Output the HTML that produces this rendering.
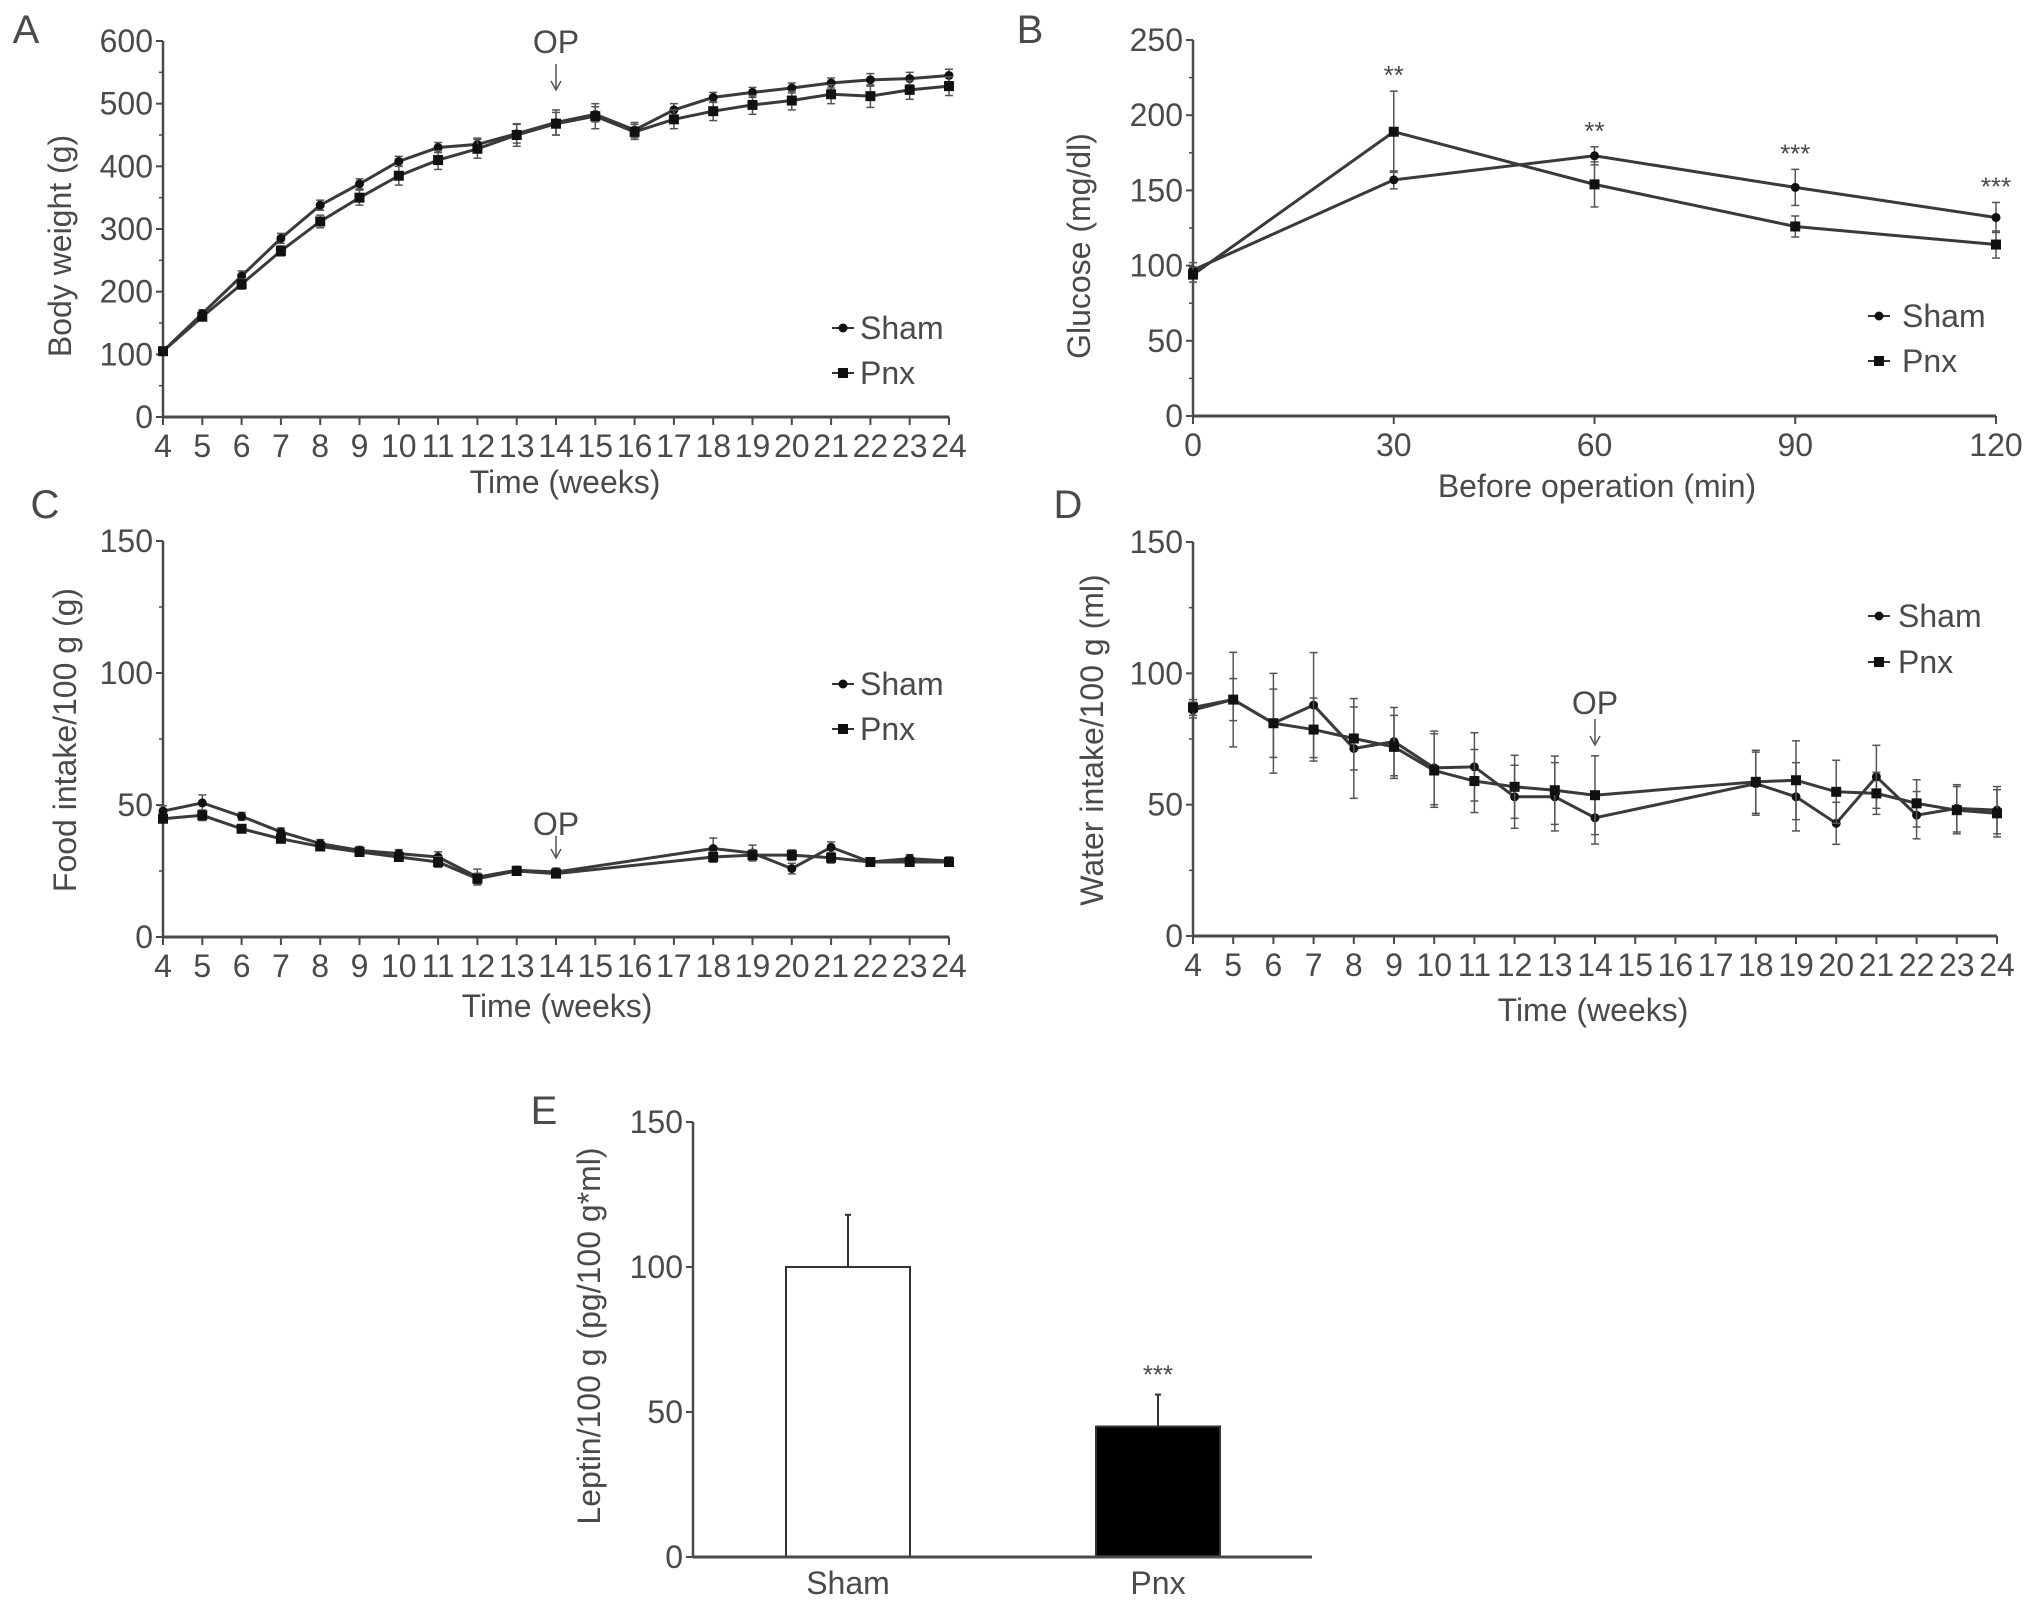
<!DOCTYPE html>
<html><head><meta charset="utf-8">
<style>
html,body{margin:0;padding:0;background:#fff;}
svg{display:block;}
text{font-family:"Liberation Sans Narrow","Liberation Sans",sans-serif;fill:#4a4a4a;}
</style></head>
<body>
<svg id="fig" width="2031" height="1609" viewBox="0 0 2031 1609" xmlns="http://www.w3.org/2000/svg"></svg>
<script>
// ---- Panel A: body weight ----
const weeksA = [4,5,6,7,8,9,10,11,12,13,14,15,16,17,18,19,20,21,22,23,24];
const shamA = [105,165,225,285,338,372,408,430,435,452,470,483,458,490,510,518,525,533,538,540,545];
const pnxA  = [105,160,212,265,312,350,385,410,428,450,468,480,455,475,488,498,505,515,512,522,528];
const shamAErr = [5,6,8,8,8,8,8,8,10,15,20,12,12,10,8,8,8,8,10,10,10];
const pnxAErr  = [5,6,8,8,10,12,15,15,15,18,18,20,12,15,15,15,15,15,18,15,15];
const ticksA = [0,100,200,300,400,500,600];
// ---- Panel B: glucose ----
const minsB = [0,30,60,90,120];
const shamB = [97,157,173,152,132];
const pnxB  = [94,189,154,126,114];
const shamBErr = [5,6,6,12,10];
const pnxBErr  = [5,27,15,7,9];
const starsB = ["","**","**","***","***"];
const ticksB = [0,50,100,150,200,250];
// ---- Panel C: food intake ----
const weeksC = [4,5,6,7,8,9,10,11,12,13,14,18,19,20,21,22,23,24];
const shamC = [47.7,50.8,45.7,39.8,35.4,32.8,31.6,30.3,22.7,25.3,24.6,33.5,31.8,25.9,34,28.4,29.7,28.8];
const pnxC  = [44.8,46.1,41,37.2,34.3,32.2,30.3,28.4,22.1,25,24,30.3,31,31,30,28.4,28.4,28.4];
const shamCErr = [2,3,1.5,1.5,1.5,1.5,1.5,2,3,1.5,1.5,4,3,2,2,1.5,1.5,1.5];
const pnxCErr  = [1.5,2,1.5,1.5,1.5,1.5,1.5,2,2,1.5,1.5,2,2,2,2,1.5,1.5,1.5];
const ticksC = [0,50,100,150];
// ---- Panel D: water intake ----
const weeksD = [4,5,6,7,8,9,10,11,12,13,14,18,19,20,21,22,23,24];
const shamD = [86,90,81,87.9,71.4,74,64,64.4,53,53,45,58,53,42.9,60.6,46,48.6,47.9];
const pnxD  = [87,90,81,78.6,75.2,72,63,59,56.8,55.5,53.6,58.7,59.3,54.9,54.3,50.5,47.9,46.7];
const shamDErr = [3,18,19,20,19,13,14,13,12,13,10,12,13,8,12,9,9,9];
const pnxDErr  = [3,8,13,12,12,12,14,12,12,13,15,12,15,12,8,9,9,9];
const ticksD = [0,50,100,150];
// ---- Panel E: leptin ----
const groupsE = ["Sham","Pnx"];
const valuesE = [100,45];
const errE = [18,11];
const starsE = ["","***"];
const ticksE = [0,50,100,150];

const NS="http://www.w3.org/2000/svg";
const svg=document.getElementById('fig');
const AX="#4a4a4a";
function el(tag,attrs,parent){const e=document.createElementNS(NS,tag);for(const k in attrs)e.setAttribute(k,attrs[k]);(parent||svg).appendChild(e);return e;}
function txt(s,x,y,size,anchor,parent,rot){const t=el('text',{x:x,y:y,'font-size':size,'text-anchor':anchor||'middle','dominant-baseline':'central'},parent);if(rot)t.setAttribute('transform','rotate(-90 '+x+' '+y+')');t.textContent=s;return t;}

function panel(cfg){
  const g=el('g',{});
  
  
  const xs=v=>cfg.x0+(cfg.xIdx?cfg.xIdx(v):(v-cfg.xmin)/(cfg.xmax-cfg.xmin))*(cfg.x1-cfg.x0);
  const ys=v=>cfg.y0-(v-cfg.ymin)/(cfg.ymax-cfg.ymin)*(cfg.y0-cfg.y1);
  const ya=el('line',{x1:cfg.x0,y1:cfg.y0,x2:cfg.x0,y2:cfg.y1,stroke:AX,'stroke-width':2.5},g);
  
  const xa=el('line',{x1:cfg.x0,y1:cfg.y0,x2:cfg.x1,y2:cfg.y0,stroke:AX,'stroke-width':3},g);
  
  cfg.yticks.forEach((v,i)=>{
    el('line',{x1:cfg.x0-7,y1:ys(v),x2:cfg.x0,y2:ys(v),stroke:AX,'stroke-width':2},g);
    const t=txt(String(v),cfg.x0-10,ys(v),32,'end',g);
    
    if(i<cfg.yticks.length-1){const m=(v+cfg.yticks[i+1])/2;el('line',{x1:cfg.x0-4,y1:ys(m),x2:cfg.x0,y2:ys(m),stroke:AX,'stroke-width':1.5},g);}
  });
  cfg.xticks.forEach((v,i)=>{
    el('line',{x1:xs(v),y1:cfg.y0,x2:xs(v),y2:cfg.y0+8,stroke:AX,'stroke-width':2},g);
    const t=txt(String(cfg.xlabels?cfg.xlabels[i]:v),xs(v),cfg.y0+29,32,'middle',g);
    
  });
  const xt=txt(cfg.xtitle,cfg.xtx,cfg.xty,32,'middle',g);
  const yt=txt(cfg.ytitle,cfg.ytx,cfg.yty,32,'middle',g,true);
  const lt=txt(cfg.letter,cfg.lx,cfg.ly,40,'middle',g);
  cfg.series.forEach(s=>{
    const sg=el('g',{},g);
    
    
    s.vals.forEach((v,i)=>{
      const x=xs(s.x[i]);const e=s.err[i];
      el('line',{x1:x,y1:ys(v-e),x2:x,y2:ys(v+e),stroke:'#555','stroke-width':1.5},sg);
      el('line',{x1:x-4,y1:ys(v+e),x2:x+4,y2:ys(v+e),stroke:'#555','stroke-width':1.5},sg);
      el('line',{x1:x-4,y1:ys(v-e),x2:x+4,y2:ys(v-e),stroke:'#555','stroke-width':1.5},sg);
    });
    el('polyline',{points:s.vals.map((v,i)=>xs(s.x[i])+','+ys(v)).join(' '),fill:'none',stroke:'#3a3a3a','stroke-width':3},sg);
    s.vals.forEach((v,i)=>{
      const x=xs(s.x[i]),y=ys(v);
      const m=s.square?el('rect',{x:x-5,y:y-5,width:10,height:10,fill:'#111'},sg):el('circle',{cx:x,cy:y,r:4.5,fill:'#111'},sg);
      
    });
  });
  if(cfg.stars){cfg.stars.forEach((s,i)=>{if(!s)return;const v=Math.max(cfg.series[0].vals[i]+cfg.series[0].err[i],cfg.series[1].vals[i]+cfg.series[1].err[i]);
    const t=txt(s,xs(cfg.series[0].x[i]),ys(v)-16,26,'middle',g);});}
  if(cfg.op){const x=xs(14);const t=txt('OP',x,cfg.op[0],32,'middle',g);
    el('line',{x1:x,y1:cfg.op[1],x2:x,y2:cfg.op[2],stroke:'#555','stroke-width':1.5},g);
    el('path',{d:'M'+(x-5)+' '+(cfg.op[2]-9)+' L'+x+' '+cfg.op[2]+' L'+(x+5)+' '+(cfg.op[2]-9),fill:'none',stroke:'#555','stroke-width':1.5},g);}
  const lg=el('g',{},g);
  [['Sham',false],['Pnx',true]].forEach((d,i)=>{
    const y=cfg.leg[2]+i*cfg.leg[3];
    const e=el('g',{},lg);
    el('line',{x1:cfg.leg[0],y1:y,x2:cfg.leg[0]+22,y2:y,stroke:'#333','stroke-width':2},e);
    if(d[1])el('rect',{x:cfg.leg[0]+6,y:y-5,width:10,height:10,fill:'#111'},e);else el('circle',{cx:cfg.leg[0]+11,cy:y,r:4.5,fill:'#111'},e);
    txt(d[0],cfg.leg[1],y,32,'start',e);
  });
}

panel({name:'panel-a-body-weight',x0:163,x1:949,y0:417,y1:41,xmin:4,xmax:24,ymin:0,ymax:600,yticks:ticksA,xticks:weeksA,
  xtitle:'Time (weeks)',xtx:565,xty:482,ytitle:'Body weight (g)',ytx:60,yty:246,letter:'A',lx:26,ly:30,
  series:[{name:'series-sham',x:weeksA,vals:shamA,err:shamAErr},{name:'series-pnx',x:weeksA,vals:pnxA,err:pnxAErr,square:true}],
  op:[42,64,90],leg:[832,860,328,45]});
panel({name:'panel-b-glucose',x0:1193,x1:1996,y0:416,y1:40,xmin:0,xmax:120,ymin:0,ymax:250,yticks:ticksB,xticks:minsB,
  xtitle:'Before operation (min)',xtx:1597,xty:486,ytitle:'Glucose (mg/dl)',ytx:1079,yty:246,letter:'B',lx:1030,ly:30,
  series:[{name:'series-sham',x:minsB,vals:shamB,err:shamBErr},{name:'series-pnx',x:minsB,vals:pnxB,err:pnxBErr,square:true}],
  stars:starsB,leg:[1868,1902,316,45]});
const allWeeks=[4,5,6,7,8,9,10,11,12,13,14,15,16,17,18,19,20,21,22,23,24];
const idx=v=>allWeeks.indexOf(v)/(allWeeks.length-1);
panel({name:'panel-c-food-intake',x0:163,x1:949,y0:937,y1:541,xIdx:idx,ymin:0,ymax:150,yticks:ticksC,xticks:allWeeks,
  xlabels:[4,5,6,7,8,9,10,11,12,13,14,15,16,17,18,19,20,21,22,23,24],
  xtitle:'Time (weeks)',xtx:557,xty:1006,ytitle:'Food intake/100 g (g)',ytx:65,yty:740,letter:'C',lx:45,ly:505,
  series:[{name:'series-sham',x:weeksC,vals:shamC,err:shamCErr},{name:'series-pnx',x:weeksC,vals:pnxC,err:pnxCErr,square:true}],
  op:[824,836,858],leg:[832,860,684,45]});
panel({name:'panel-d-water-intake',x0:1193,x1:1997,y0:936,y1:542,xIdx:idx,ymin:0,ymax:150,yticks:ticksD,xticks:allWeeks,
  xtitle:'Time (weeks)',xtx:1593,xty:1010,ytitle:'Water intake/100 g (ml)',ytx:1092,yty:740,letter:'D',lx:1068,ly:505,
  series:[{name:'series-sham',x:weeksD,vals:shamD,err:shamDErr},{name:'series-pnx',x:weeksD,vals:pnxD,err:pnxDErr,square:true}],
  op:[703,719,745],leg:[1868,1898,616,46]});

(function(){
  const g=el('g',{});
  const x0=693,x1=1312,y0=1557,y1=1122;
  const ys=v=>y0-v/150*(y0-y1);
  const centers=[848,1158],bw=124;
  valuesE.forEach((v,i)=>{
    const c=centers[i];
    el('line',{x1:c,y1:ys(v),x2:c,y2:ys(v+errE[i]),stroke:'#333','stroke-width':2},g);
    el('line',{x1:c-3,y1:ys(v+errE[i]),x2:c+3,y2:ys(v+errE[i]),stroke:'#333','stroke-width':2},g);
    const b=el('rect',{x:c-bw/2,y:ys(v),width:bw,height:y0-ys(v),fill:i?'#000':'#fff',stroke:'#333','stroke-width':2},g);
    
    const t=txt(groupsE[i],c,1583,32,'middle',g);
    if(starsE[i]){const s=txt(starsE[i],c,ys(v+errE[i])-20,26,'middle',g);}
  });
  const ya=el('line',{x1:x0,y1:y0,x2:x0,y2:y1,stroke:AX,'stroke-width':2.5},g);
  const xa=el('line',{x1:x0,y1:y0,x2:x1,y2:y0,stroke:AX,'stroke-width':3},g);
  ticksE.forEach(v=>{el('line',{x1:x0-7,y1:ys(v),x2:x0,y2:ys(v),stroke:AX,'stroke-width':2},g);
    const t=txt(String(v),x0-10,ys(v),32,'end',g);});
  const yt=txt('Leptin/100 g (pg/100 g*ml)',589,1336,32,'middle',g,true);
  const lt=txt('E',544,1111,40,'middle',g);
})();
</script>
</body></html>
